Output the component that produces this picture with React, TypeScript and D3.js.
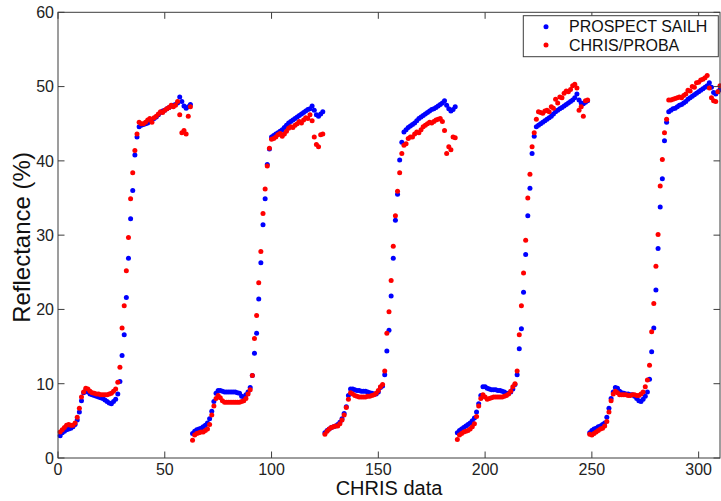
import React from 'react';
import * as d3 from 'd3';

// ---------- data ----------
const seriesNames = ['PROSPECT SAILH', 'CHRIS/PROBA'];
const bandsPerAngle = 62;
const xTickValues = [0, 50, 100, 150, 200, 250, 300];
const yTickValues = [0, 10, 20, 30, 40, 50, 60];

const sailhAngle1 = [3.0, 3.4, 3.6, 3.8, 3.9, 4.0, 4.2, 4.5, 5.1, 6.2, 7.7, 8.8, 9.1, 8.9, 8.6, 8.5, 8.4, 8.3, 8.2, 8.1, 8.0, 7.8, 7.6, 7.4, 7.3, 7.6, 7.9,
  8.6, 10.3, 13.8, 16.6, 21.6, 26.9, 32.2, 36.0, 40.8, 43.2,
  44.6, 44.8, 44.9, 45.0, 45.1, 45.3, 45.5, 45.7, 45.9, 46.2, 46.5, 46.7, 46.8, 47.0, 47.2, 47.4, 47.5, 47.6, 47.8, 48.6, 48.0, 47.4, 47.1, 47.3, 47.6];
const sailhAngle2 = [3.3, 3.6, 3.8, 3.9, 4.0, 4.2, 4.4, 4.7, 5.3, 6.3, 7.6, 8.7, 9.1, 9.1, 9.0, 8.9, 8.9, 8.9, 8.9, 8.9, 8.9, 8.8, 8.7, 8.3, 8.2, 8.5, 8.9,
  9.5, 11.1, 14.1, 16.8, 21.4, 26.3, 31.4, 34.9, 39.5, 41.6,
  43.2, 43.4, 43.6, 43.8, 44.0, 44.2, 44.5, 44.8, 45.1, 45.3, 45.5, 45.7, 45.9, 46.1, 46.3, 46.5, 46.7, 46.9, 47.0, 47.4, 46.8, 46.2, 46.0, 46.3, 46.6];
const sailhAngle3 = [3.4, 3.7, 3.9, 4.1, 4.2, 4.3, 4.5, 4.8, 5.3, 6.0, 6.9, 8.4, 9.3, 9.3, 9.2, 9.1, 9.1, 9.0, 9.0, 9.0, 8.9, 8.8, 8.7, 8.6, 8.6, 8.9, 9.5,
  9.7, 11.2, 14.4, 17.2, 21.8, 26.9, 32.0, 35.5, 40.1, 42.5,
  43.9, 44.2, 44.5, 44.7, 44.9, 45.1, 45.4, 45.7, 45.9, 46.1, 46.3, 46.5, 46.7, 46.9, 47.0, 47.2, 47.4, 47.6, 47.8, 48.1, 47.5, 47.0, 46.7, 46.9, 47.3];
const sailhAngle4 = [3.4, 3.7, 3.9, 4.1, 4.3, 4.5, 4.7, 5.0, 5.4, 6.2, 7.3, 8.4, 9.6, 9.6, 9.4, 9.3, 9.2, 9.2, 9.2, 9.1, 9.1, 9.0, 8.9, 8.7, 8.7, 8.9, 9.3,
  9.9, 11.2, 14.7, 17.4, 22.3, 27.4, 32.6, 36.3, 41.0, 43.3,
  44.6, 44.8, 45.0, 45.2, 45.4, 45.6, 45.8, 46.0, 46.3, 46.6, 46.8, 47.0, 47.2, 47.4, 47.6, 47.8, 48.0, 48.2, 48.5, 49.0, 48.2, 47.8, 47.7, 47.9, 48.1];
const sailhAngle5 = [3.4, 3.7, 3.9, 4.0, 4.2, 4.3, 4.5, 4.7, 5.5, 6.7, 8.0, 8.9, 9.5, 9.4, 9.0, 8.8, 8.7, 8.6, 8.6, 8.5, 8.5, 8.3, 8.0, 7.7, 7.6, 7.9, 8.3,
  8.9, 10.6, 14.3, 17.5, 22.6, 28.2, 33.8, 37.6, 42.7, 45.2,
  46.6, 46.8, 47.0, 47.1, 47.3, 47.5, 47.6, 47.8, 48.0, 48.3, 48.5, 48.7, 48.9, 49.1, 49.3, 49.5, 49.7, 49.9, 50.1, 50.5, 49.9, 49.2, 49.0, 49.3, 49.6];

const chrisAngle1 = [3.5, 3.8, 4.1, 4.4, 4.5, 4.4, 4.4, 4.7, 5.5, 6.7, 8.2, 8.9, 9.4, 9.3, 9.0, 8.8, 8.7, 8.6, 8.6, 8.5, 8.5, 8.5, 8.5, 8.6, 8.7, 9.0, 9.3,
  10.2, 12.2, 17.5, 20.5, 25.2, 29.7, 34.9, 38.4, 41.4, 43.6,
  45.2, 45.0, 45.0, 45.2, 45.5, 45.7, 45.2, 45.8, 46.0, 46.3, 46.6, 46.5, 46.8, 47.0, 47.2, 47.5, 47.3, 47.5, 48.0, 46.2, 43.8, 44.1, 43.6, 46.0, 47.3];
const chrisAngle2 = [2.4, 3.1, 3.3, 3.4, 3.5, 3.5, 3.7, 3.9, 4.5, 5.8, 7.0, 8.0, 8.4, 8.1, 7.7, 7.5, 7.5, 7.5, 7.5, 7.5, 7.5, 7.5, 7.5, 7.6, 7.7, 8.0, 8.6,
  9.2, 11.1, 16.1, 19.2, 23.6, 27.8, 32.9, 36.2, 39.3, 41.7,
  42.9, 43.0, 43.2, 43.5, 43.7, 43.3, 43.6, 44.0, 44.4, 44.6, 44.5, 44.8, 45.0, 45.3, 45.1, 45.5, 45.8, 45.7, 46.2, 45.4, 43.2, 42.2, 41.9, 43.5, 43.6];
const chrisAngle3 = [3.2, 3.6, 3.9, 4.1, 4.2, 4.3, 4.3, 4.6, 5.1, 5.8, 6.8, 7.9, 8.8, 8.6, 8.4, 8.3, 8.2, 8.2, 8.2, 8.2, 8.3, 8.3, 8.4, 8.5, 8.7, 9.1, 9.6,
  9.9, 11.7, 16.8, 19.7, 23.9, 28.5, 32.6, 35.9, 38.4, 41.0,
  42.1, 42.3, 43.0, 43.2, 43.2, 43.6, 43.9, 43.8, 44.2, 44.6, 44.8, 45.0, 45.2, 45.1, 45.3, 45.5, 45.6, 45.7, 45.3, 44.1, 41.0, 41.9, 41.5, 43.2, 43.1];
const chrisAngle4 = [2.5, 3.1, 3.3, 3.5, 3.6, 3.7, 3.9, 4.2, 4.6, 5.6, 7.0, 8.0, 8.5, 8.2, 7.9, 8.0, 8.1, 8.2, 8.2, 8.2, 8.2, 8.2, 8.3, 8.4, 8.6, 9.0, 9.6,
  10.0, 11.7, 16.6, 20.5, 24.9, 29.3, 35.0, 38.2, 41.9, 43.8,
  45.6, 46.6, 46.5, 46.4, 46.7, 46.8, 46.6, 47.3, 47.1, 48.3, 47.8, 48.6, 48.5, 49.1, 49.4, 49.3, 49.6, 50.1, 50.3, 49.8, 46.8, 47.3, 46.0, 48.1, 48.2];
const chrisAngle5 = [3.2, 3.1, 3.3, 3.5, 3.7, 3.9, 4.0, 4.3, 4.9, 6.2, 7.7, 8.6, 9.0, 8.8, 8.5, 8.5, 8.5, 8.5, 8.4, 8.4, 8.5, 8.5, 8.4, 8.4, 8.6, 8.9, 9.6,
  10.5, 12.5, 17.0, 20.8, 25.8, 30.1, 36.6, 40.2, 43.8, 45.6,
  48.2, 48.2, 48.3, 48.4, 48.5, 48.6, 48.5, 48.8, 49.0, 49.5, 49.4, 50.0, 49.9, 50.5, 50.6, 50.9, 51.0, 51.2, 51.5, 49.8, 48.5, 48.1, 48.0, 49.3, 50.1];

const sailhValues = [sailhAngle1, sailhAngle2, sailhAngle3, sailhAngle4, sailhAngle5].flat();
const chrisValues = [chrisAngle1, chrisAngle2, chrisAngle3, chrisAngle4, chrisAngle5].flat();

// ---------- layout ----------
const W = 721;
const H = 501;
const plot = { left: 58, right: 720, top: 12.3, bottom: 458 };
const FONT = 'Arial, "Liberation Sans", Helvetica, sans-serif';
const AXIS = '#3c3c3c';
const TICK = 6.5;

export default function App() {
  const x = d3.scaleLinear().domain([0, 310]).range([plot.left, plot.right]);
  const y = d3.scaleLinear().domain([0, 60]).range([plot.bottom, plot.top]);

  const toPoints = (vals: number[]) => vals.map((v, i) => ({ xv: Math.floor(i / bandsPerAngle) * bandsPerAngle + (i % bandsPerAngle) + 1, yv: v }));
  const blue = toPoints(sailhValues);
  const red = toPoints(chrisValues);

  return (
    <svg width={W} height={H} style={{ position: 'absolute', left: 0, top: 0, background: '#fff' }} fontFamily={FONT}>
      <rect x={0} y={0} width={W} height={H} fill="#fff" />
      {/* points */}
      <g>
        {blue.map((p, i) => (
          <circle key={'b' + i} cx={x(p.xv)} cy={y(p.yv)} r={2.5} fill="#0000ff" />
        ))}
        {red.map((p, i) => (
          <circle key={'r' + i} cx={x(p.xv)} cy={y(p.yv)} r={2.5} fill="#ff0000" />
        ))}
      </g>
      {/* box */}
      <rect x={plot.left} y={plot.top} width={plot.right - plot.left} height={plot.bottom - plot.top} fill="none" stroke={AXIS} strokeWidth={1} />
      {/* x ticks */}
      {xTickValues.map((t) => (
        <g key={'xt' + t}>
          <line x1={x(t)} x2={x(t)} y1={plot.bottom} y2={plot.bottom - TICK} stroke={AXIS} />
          <line x1={x(t)} x2={x(t)} y1={plot.top} y2={plot.top + TICK} stroke={AXIS} />
          <text x={x(t)} y={475} textAnchor="middle" fontSize={16} fill="#222">{t}</text>
        </g>
      ))}
      {/* y ticks */}
      {yTickValues.map((t) => (
        <g key={'yt' + t}>
          <line x1={plot.left} x2={plot.left + TICK} y1={y(t)} y2={y(t)} stroke={AXIS} />
          <line x1={plot.right} x2={plot.right - TICK} y1={y(t)} y2={y(t)} stroke={AXIS} />
          <text x={54} y={y(t) + 5.8} textAnchor="end" fontSize={16} fill="#222">{t}</text>
        </g>
      ))}
      {/* axis titles */}
      <text x={389} y={495} textAnchor="middle" fontSize={20} fill="#111">CHRIS data</text>
      <text transform={`translate(29.5, 237.5) rotate(-90)`} textAnchor="middle" fontSize={24} fill="#111">Reflectance (%)</text>
      {/* legend */}
      <g>
        <rect x={523.3} y={15.7} width={195} height={41} fill="#fff" stroke={AXIS} strokeWidth={1} />
        <circle cx={546} cy={26.7} r={2.5} fill="#0000ff" />
        <circle cx={546} cy={45} r={2.5} fill="#ff0000" />
        <text x={569} y={32.3} fontSize={16} fill="#111">{seriesNames[0]}</text>
        <text x={569} y={50.7} fontSize={16} fill="#111">{seriesNames[1]}</text>
      </g>
    </svg>
  );
}
